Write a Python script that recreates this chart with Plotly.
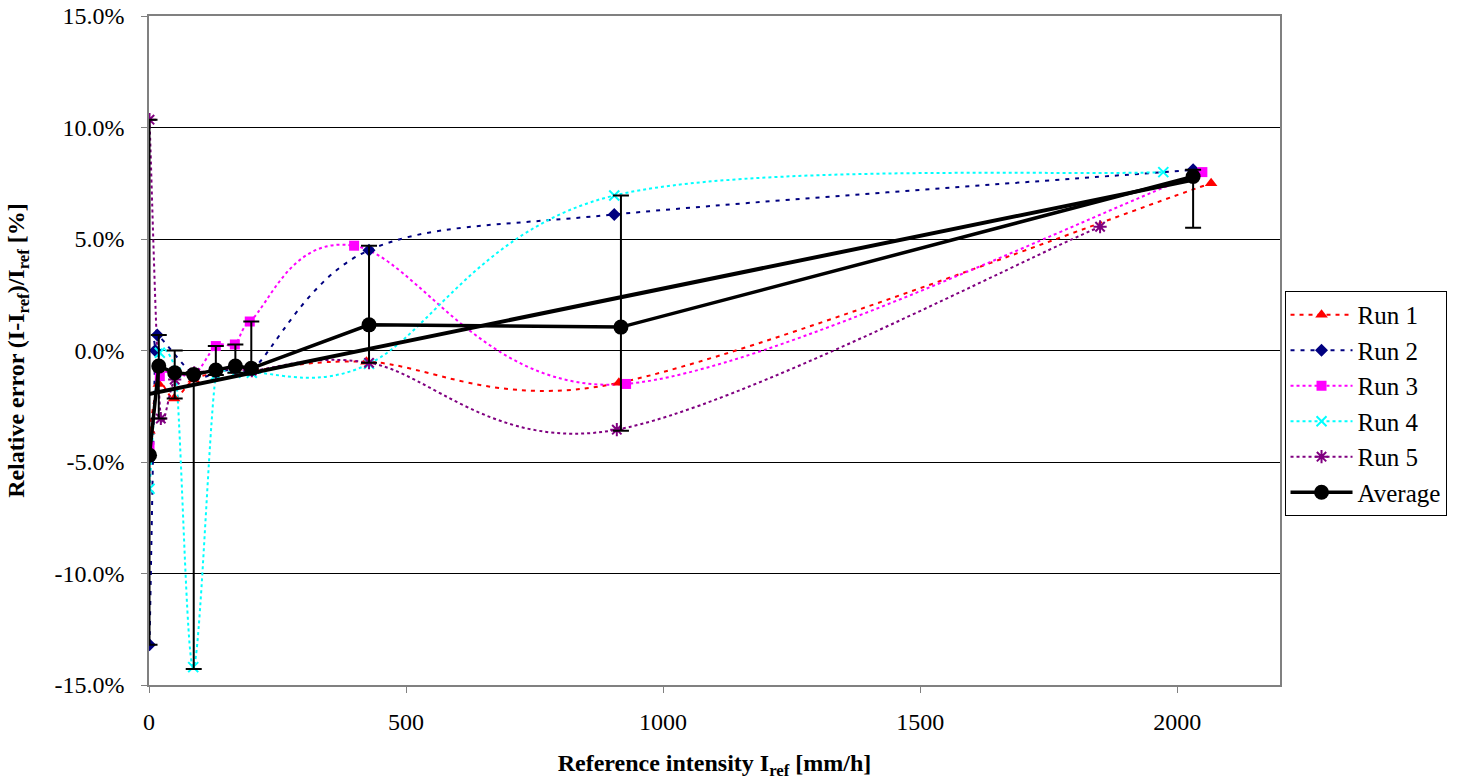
import math
import plotly.graph_objects as go

# ---------------- data ----------------
run1_x = [1, 19, 49, 87, 130, 168, 199, 423, 914, 2066]
run1_y = [-3.6, -1.5, -2.15, -1.3, -1.0, -0.8, -0.9, -0.5, -1.45, 7.5]

run2_x = [1, 12, 16, 88, 130, 168, 200, 428, 905, 2031]
run2_y = [-13.2, 0.0, 0.7, -1.1, -1.0, -0.8, -0.9, 4.5, 6.1, 8.1]

run3_x = [1, 21, 50, 88, 130, 167, 196, 399, 928, 2049]
run3_y = [-4.3, -1.15, -1.0, -1.1, 0.2, 0.27, 1.3, 4.7, -1.5, 8.0]

run4_x = [1, 21, 52, 86, 130, 168, 200, 428, 905, 1973]
run4_y = [-6.2, -0.1, -1.0, -14.2, -1.1, -1.0, -1.0, -0.6, 6.95, 8.0]

run5_x = [1, 23, 50, 88, 130, 168, 200, 428, 910, 1850]
run5_y = [10.35, -3.05, -1.3, -1.0, -0.9, -0.8, -0.9, -0.55, -3.55, 5.55]

avg_x = [1, 19, 50, 87, 130, 168, 199, 428, 918, 2031]
avg_y = [-4.7, -0.7, -1.0, -1.08, -0.88, -0.7, -0.8, 1.15, 1.05, 7.8]
avg_err_plus = [15.05, 1.4, 1.0, 0.1, 1.08, 0.97, 2.1, 3.55, 5.9, 0.3]
avg_err_minus = [8.5, 2.35, 1.15, 13.2, 0.22, 0.3, 0.2, 1.7, 4.65, 2.3]

trend_x = [0, 2031]
trend_y = [-1.95, 7.65]

x_ticks = [0, 500, 1000, 1500, 2000]
y_ticks = [-15, -10, -5, 0, 5, 10, 15]

X_RANGE = [0, 2200]
Y_RANGE = [-15, 15]

FONT = "Liberation Serif"
FS = 24

W, H = 1470, 780
ML, MR, MT, MB = 149, 190, 16, 95
PLOT_W = W - ML - MR
PLOT_H = H - MT - MB


def smooth_path(xs, ys):
    """Excel-style smoothed line: cubic Bezier segments whose control points
    come from the neighbouring data points (computed in screen proportions)."""
    sx = PLOT_W / (X_RANGE[1] - X_RANGE[0])
    sy = PLOT_H / (Y_RANGE[1] - Y_RANGE[0])
    pts = [(x * sx, y * sy) for x, y in zip(xs, ys)]
    n = len(pts)

    def d(a, b):
        return math.hypot(a[0] - b[0], a[1] - b[1])

    path = f"M {xs[0]},{ys[0]}"
    for i in range(n - 1):
        p0 = pts[i - 1] if i > 0 else pts[i]
        p1 = pts[i]
        p2 = pts[i + 1]
        p3 = pts[i + 2] if i + 2 < n else pts[i + 1]
        d12 = d(p1, p2)
        d02 = d(p0, p2)
        d13 = d(p1, p3)
        f = 1 / 6
        g = 1 / 6
        if d02 > 0 and d02 / 6 > d12 / 2:
            f = d12 / 2 / d02
        if d13 > 0 and d13 / 6 > d12 / 2:
            g = d12 / 2 / d13
        c1 = (p1[0] + f * (p2[0] - p0[0]), p1[1] + f * (p2[1] - p0[1]))
        c2 = (p2[0] - g * (p3[0] - p1[0]), p2[1] - g * (p3[1] - p1[1]))
        path += (f" C {c1[0] / sx:.4f},{c1[1] / sy:.4f}"
                 f" {c2[0] / sx:.4f},{c2[1] / sy:.4f}"
                 f" {xs[i + 1]},{ys[i + 1]}")
    return path


runs = [
    ("Run 1", run1_x, run1_y, "#FF0000", "triangle-up", 11, "4px,5px", None),
    ("Run 2", run2_x, run2_y, "#000080", "diamond", 10, "4px,6px", None),
    ("Run 3", run3_x, run3_y, "#FF00FF", "square", 10, "3px,3px", None),
    ("Run 4", run4_x, run4_y, "#00FFFF", "x-thin-open", 10, "3px,3px", 2),
    ("Run 5", run5_x, run5_y, "#800080", "asterisk-open", 11, "3px,3px", 2),
]

fig = go.Figure()
shapes = []

for name, xs, ys, col, sym, size, dash, lw in runs:
    marker = dict(symbol=sym, size=size, color=col)
    if lw:
        marker["line"] = dict(color=col, width=lw)
    # smoothed connecting line
    shapes.append(dict(type="path", xref="x", yref="y", path=smooth_path(xs, ys),
                       line=dict(color=col, width=2, dash=dash), layer="between"))
    # markers
    fig.add_trace(go.Scatter(x=xs, y=ys, name=name, mode="markers", marker=marker,
                             legendgroup=name, showlegend=False))
    # legend entry (line + marker)
    fig.add_trace(go.Scatter(x=[None], y=[None], name=name, mode="lines+markers",
                             line=dict(color=col, width=2, dash=dash), marker=marker,
                             legendgroup=name, showlegend=True))

fig.add_trace(go.Scatter(
    x=trend_x, y=trend_y, mode="lines", showlegend=False, hoverinfo="skip",
    line=dict(color="black", width=4),
))

fig.add_trace(go.Scatter(
    x=avg_x, y=avg_y, name="Average", mode="lines+markers",
    line=dict(color="black", width=3.5),
    marker=dict(symbol="circle", size=15, color="black"),
    error_y=dict(type="data", symmetric=False, array=avg_err_plus,
                 arrayminus=avg_err_minus, color="black", thickness=2, width=8),
))

fig.update_layout(
    width=W, height=H,
    margin=dict(l=ML, r=MR, t=MT, b=MB),
    paper_bgcolor="white", plot_bgcolor="white",
    font=dict(family=FONT, size=FS, color="black"),
    showlegend=True,
    shapes=shapes,
    legend=dict(
        x=1.004, y=0.589, xanchor="left", yanchor="top",
        bordercolor="black", borderwidth=1, bgcolor="white",
        font=dict(family=FONT, size=25), tracegroupgap=0,
        itemwidth=62,
    ),
)

fig.update_xaxes(
    range=X_RANGE, tickvals=x_ticks, ticktext=[str(v) for v in x_ticks],
    showgrid=False, zeroline=False, automargin=False,
    showline=True, linecolor="#808080", linewidth=1.5, mirror=True,
    ticks="outside", ticklen=6, tickcolor="#808080",
    ticklabelstandoff=8,
    title=dict(text="<b>Reference intensity I<sub>ref</sub> [mm/h]</b>",
               font=dict(family=FONT, size=FS), standoff=22),
)
fig.update_yaxes(
    range=Y_RANGE, tickvals=y_ticks,
    ticktext=[f"{v:.1f}%" for v in y_ticks],
    showgrid=True, gridcolor="black", gridwidth=1, zeroline=False, automargin=False,
    showline=True, linecolor="#808080", linewidth=1.5, mirror=True,
    ticks="outside", ticklen=6, tickcolor="#808080",
    ticklabelstandoff=12,
    title=dict(text="<b>Relative error (I-I<sub>ref</sub>)/I<sub>ref</sub> [%]</b>",
               font=dict(family=FONT, size=FS), standoff=23),
)

fig.write_html("out.html", config={"displayModeBar": False},
               post_script="document.body.style.margin='0';")
